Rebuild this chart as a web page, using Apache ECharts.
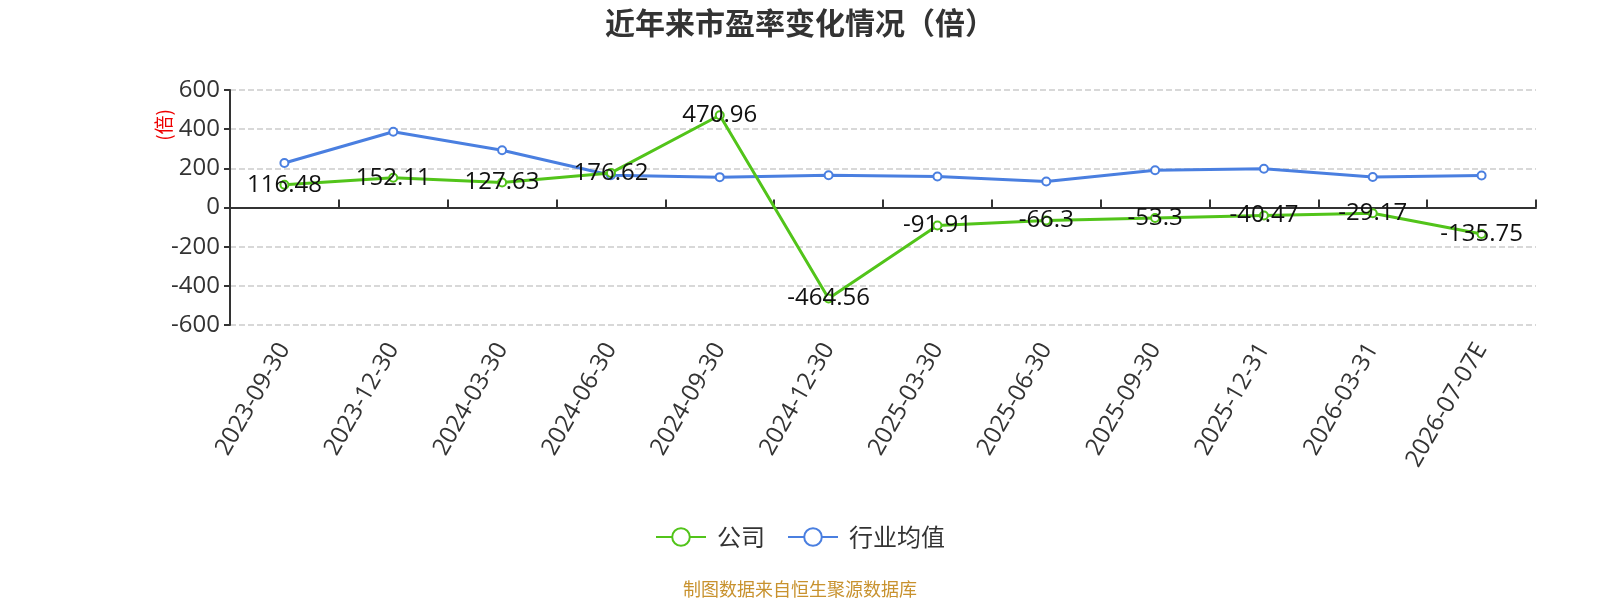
<!DOCTYPE html>
<html>
<head>
<meta charset="utf-8">
<script src="https://cdn.jsdelivr.net/npm/echarts@6/dist/echarts.min.js"></script>
<style>
  html, body { margin: 0; padding: 0; background: #fff; }
  #main { width: 1600px; height: 600px; }
</style>
</head>
<body>
<div id="main"></div>
<script>
// 报告期
const categories = ['2023-09-30', '2023-12-30', '2024-03-30', '2024-06-30', '2024-09-30', '2024-12-30',
  '2025-03-30', '2025-06-30', '2025-09-30', '2025-12-31', '2026-03-31', '2026-07-07E'];
// 公司市盈率
const companyPE = [116.48, 152.11, 127.63, 176.62, 470.96, -464.56, -91.91, -66.3, -53.3, -40.47, -29.17, -135.75];
// 行业均值（图上估读）
const industryPE = [227, 387, 292, 165, 155, 165, 158, 133, 190, 198, 156, 163];
const yTicks = { min: -600, max: 600, interval: 200 };

const font = 'Noto Sans CJK SC';
const numFont = '"Open Sans", "Noto Sans CJK SC"';
const chart = echarts.init(document.getElementById('main'));

chart.setOption({
    backgroundColor: '#fff',
    textStyle: { fontFamily: font },
    title: {
        text: '近年来市盈率变化情况（倍）',
        left: 'center',
        top: 3,
        textStyle: { fontSize: 30, fontWeight: 'bold', color: '#333', fontFamily: font }
    },
    legend: {
        bottom: 46,
        left: 'center',
        itemWidth: 50,
        itemHeight: 22,
        itemGap: 22,
        textStyle: { fontSize: 24, color: '#333', fontFamily: font, padding: [0, 0, 0, 6] },
        data: ['公司', '行业均值']
    },
    grid: { left: 230, right: 64, top: 90, bottom: 275 },
    graphic: [
        {
            type: 'text',
            left: 154,
            top: 109,
            rotation: Math.PI / 2,
            style: { text: '(倍)', fill: '#e00', fontSize: 19, fontFamily: font }
        },
        {
            type: 'text',
            left: 'center',
            bottom: 2,
            style: { text: '制图数据来自恒生聚源数据库', fill: '#c8922e', fontSize: 18, fontFamily: font }
        }
    ],
    xAxis: [
        {
            type: 'category',
            data: categories,
            axisLine: { show: false, onZero: false },
            axisTick: { show: false },
            axisLabel: { rotate: 60, fontSize: 24, color: '#333', margin: 20, fontFamily: numFont }
        },
        {
            type: 'category',
            data: categories,
            axisLine: { onZero: true, lineStyle: { color: '#333', width: 2 } },
            axisTick: { show: true, length: 8, lineStyle: { color: '#333', width: 2 } },
            axisLabel: { show: false }
        }
    ],
    yAxis: {
        type: 'value',
        min: yTicks.min,
        max: yTicks.max,
        interval: yTicks.interval,
        axisLine: { show: true, lineStyle: { color: '#333', width: 2 } },
        axisTick: { show: true, length: 6, lineStyle: { color: '#333', width: 2 } },
        axisLabel: { fontSize: 24, color: '#333', margin: 10, fontFamily: numFont },
        splitLine: { lineStyle: { type: 'dashed', color: '#ccc', width: 1.5 } }
    },
    series: [
        {
            name: '公司',
            type: 'line',
            data: companyPE,
            xAxisIndex: 0,
            symbol: 'emptyCircle',
            symbolSize: 8,
            color: '#52c41a',
            lineStyle: { width: 3 },
            label: {
                show: true,
                position: 'inside',
                offset: [0, 0],
                fontSize: 24,
                color: '#111',
                fontFamily: numFont
            },
            z: 3
        },
        {
            name: '行业均值',
            type: 'line',
            data: industryPE,
            xAxisIndex: 0,
            symbol: 'emptyCircle',
            symbolSize: 8,
            color: '#4a7fe0',
            lineStyle: { width: 3 },
            z: 2
        }
    ]
});
</script>
</body>
</html>
